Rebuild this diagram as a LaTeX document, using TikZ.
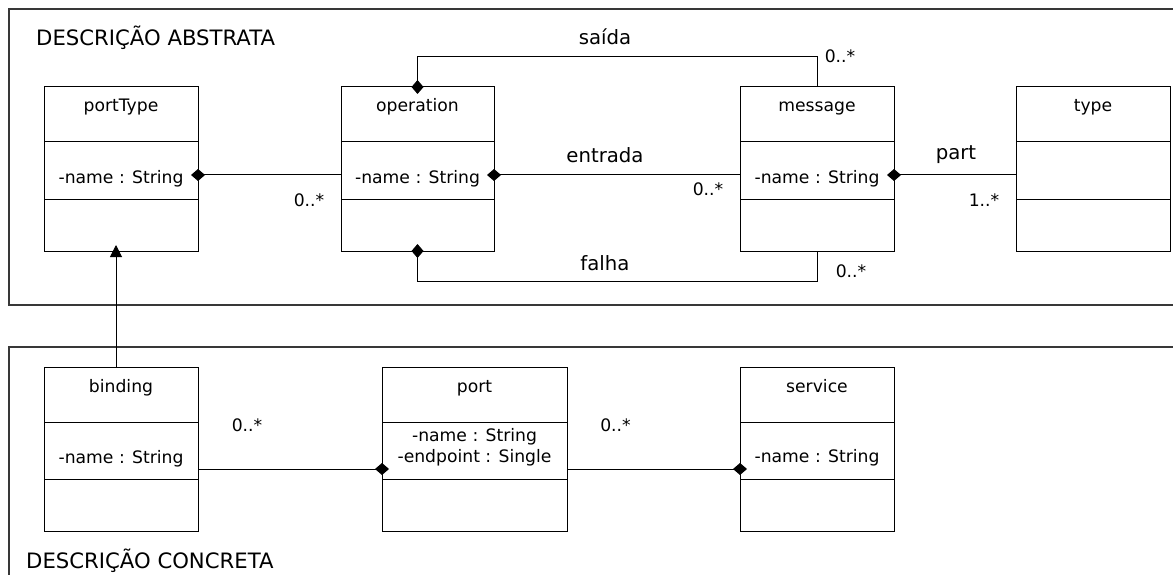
\documentclass[tikz,border=0pt]{standalone}
\usepackage{fontspec}
\setmainfont{DejaVu Sans}
\usetikzlibrary{arrows.meta}

% UML class: name, top-left corner, width, title
\newcommand\umlclass[4]{%
  \node[classbox, minimum width=#3pt, anchor=north west] (#1) at #2 {};
  \draw[classline] ([yshift=-55pt]#1.north west) -- ([yshift=-55pt]#1.north east);
  \draw[classline] ([yshift=-112pt]#1.north west) -- ([yshift=-112pt]#1.north east);
  \node[classtext, anchor=base] (#1-title) at ([yshift=-25pt]#1.north) {#4};
}

\begin{document}
\begin{tikzpicture}[x=1pt,y=-1pt,
  classbox/.style={draw=black, line width=1pt, minimum height=164pt, inner sep=0pt, outer sep=0pt},
  classline/.style={line width=1pt},
  frame/.style={draw=black!78, line width=1.3pt},
  classtext/.style={font=\fontsize{17.2}{20}\selectfont, inner sep=0pt},
  mult/.style={font=\fontsize{17.2}{20}\selectfont, inner sep=0pt, anchor=base},
  assoclabel/.style={font=\fontsize{19.7}{23}\selectfont, inner sep=0pt, anchor=base},
  heading/.style={font=\fontsize{21.2}{24}\selectfont, inner sep=0pt, anchor=base west},
  comp/.style={line width=1pt, arrows={Diamond[length=14pt,width=12pt]-}, shorten <=-7pt},
  gen/.style={line width=1pt, arrows={-Triangle[length=12pt,width=12pt]}, shorten >=-6pt},
]
\clip (0,0) rectangle (1173,575);

% package frames
\draw[frame] (9,9) rectangle (1200,305);
\draw[frame] (9,347) rectangle (1200,600);
\node[heading] (abstrata) at (36,45.7) {DESCRIÇÃO ABSTRATA};
\node[heading] (concreta) at (26,568) {DESCRIÇÃO CONCRETA};

% abstract description classes
\umlclass{portType}{(44,87)}{154}{portType}
\umlclass{operation}{(341,87)}{153}{operation}
\umlclass{message}{(740,87)}{154}{message}
\umlclass{type}{(1016,87)}{154}{type}
\node[classtext, anchor=base] (portType-attr) at ([yshift=-96pt]portType.north) {-name : String};
\node[classtext, anchor=base] (operation-attr) at ([yshift=-96pt]operation.north) {-name : String};
\node[classtext, anchor=base] (message-attr) at ([yshift=-96pt]message.north) {-name : String};

% concrete description classes
\umlclass{binding}{(44,367)}{154}{binding}
\umlclass{port}{(382,367)}{185}{port}
\umlclass{service}{(740,367)}{154}{service}
\node[classtext, anchor=base] (binding-attr) at ([yshift=-96pt]binding.north) {-name : String};
\node[classtext, anchor=base] (port-attr1) at ([yshift=-74pt]port.north) {-name : String};
\node[classtext, anchor=base] (port-attr2) at ([yshift=-95pt]port.north) {-endpoint : Single};
\node[classtext, anchor=base] (service-attr) at ([yshift=-95pt]service.north) {-name : String};

% compositions among abstract classes
\draw[comp] ([yshift=-88pt]portType.north east) -- ([yshift=-88pt]operation.north west);
\draw[comp] ([yshift=-88pt]operation.north east) -- ([yshift=-88pt]message.north west);
\draw[comp] ([yshift=-88pt]message.north east) -- ([yshift=-88pt]type.north west);
\draw[comp] (operation.north) -- ++(0,-30) -| (message.north);
\draw[comp] (operation.south) -- ++(0,30) -| (message.south);

% compositions among concrete classes
\draw[comp] ([yshift=-102pt]port.north west) -- ([yshift=-102pt]binding.north east);
\draw[comp] ([yshift=-102pt]service.north west) -- ([yshift=-102pt]port.north east);

% generalization binding -> portType
\draw[gen] ([xshift=-5pt]binding.north) -- ([xshift=-5pt]portType.south);

% association labels and multiplicities
\node[assoclabel] (saida) at (605,45) {saída};
\node[assoclabel] (entrada) at (605,163) {entrada};
\node[assoclabel] (falha) at (605,270.5) {falha};
\node[assoclabel] (part) at (956,159.5) {part};
\node[mult] (m1) at (309,206) {0..*};
\node[mult] (m2) at (708,196) {0..*};
\node[mult] (m3) at (840,63) {0..*};
\node[mult] (m4) at (851,277.5) {0..*};
\node[mult] (m5) at (984,206) {1..*};
\node[mult] (m6) at (247,431) {0..*};
\node[mult] (m7) at (615.5,431) {0..*};
\end{tikzpicture}
\end{document}
